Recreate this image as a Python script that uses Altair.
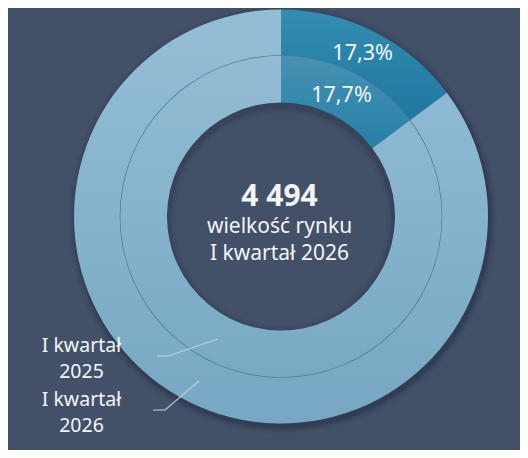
import altair as alt
import pandas as pd

# ---- data ----
rings = ["I kwartał 2025", "I kwartał 2026"]          # inner ring, outer ring
segments = ["udział", "pozostałe"]
inner_values = [14.8, 85.2]
outer_values = [14.8, 85.2]
inner_labels = ["17,7%", ""]
outer_labels = ["17,3%", ""]
center_value = "4 494"
center_lines = ["wielkość rynku", "I kwartał 2026"]
legend_2025 = ["I kwartał", "2025"]
legend_2026 = ["I kwartał", "2026"]

rows = []
for ring, vals, labs in [(rings[0], inner_values, inner_labels), (rings[1], outer_values, outer_labels)]:
    for i, (s, v, l) in enumerate(zip(segments, vals, labs)):
        rows.append({"ring": ring, "seg": s, "value": v, "label": l, "ord": i})
df = pd.DataFrame(rows)
one = pd.DataFrame({"k": [0]})

BG = "#435168"
W, H = 512, 442
CX, CY = 273, 208.5
R_OUT, R_MID, R_IN = 207, 161, 114
FONT = "Noto Sans"
TXT = "#f2f5f8"


def grad(c1, c2):
    return {"gradient": "linear", "x1": 0, "y1": 0, "x2": 0, "y2": 1,
            "stops": [{"offset": 0, "color": c1}, {"offset": 1, "color": c2}]}

light_out = grad("#95bed6", "#77a7c3")
dark_out = grad("#338cb1", "#1e789f")
light_in = grad("#93bcd4", "#79a9c4")
dark_in = grad("#4791b4", "#2680a6")

layers = []

# outer drop shadow
for k, op in [(7, 0.05), (5, 0.07), (3, 0.1), (1.5, 0.12)]:
    layers.append(
        alt.Chart(one).mark_arc(innerRadius=R_OUT - 10, outerRadius=R_OUT + k, color="#0d1726", opacity=op)
        .encode(theta=alt.value(0), theta2=alt.value(6.2832), x=alt.value(CX + 1.5), y=alt.value(CY + 3))
    )
# inner (hole) shadow
for k, op in [(3, 0.08), (5, 0.08), (8, 0.06)]:
    layers.append(
        alt.Chart(one).mark_arc(innerRadius=R_IN - k, outerRadius=R_IN + 10, color="#0d1726", opacity=op)
        .encode(theta=alt.value(0), theta2=alt.value(6.2832), x=alt.value(CX), y=alt.value(CY + 3))
    )

def ring_layer(ring, r1, r2, dark, light):
    return (
        alt.Chart(df).transform_filter(alt.datum.ring == ring)
        .mark_arc(innerRadius=r1, outerRadius=r2)
        .encode(
            theta=alt.Theta("value:Q", stack=True),
            order=alt.Order("ord:O"),
            fill=alt.condition(alt.datum.seg == segments[0], alt.value(dark), alt.value(light)),
            x=alt.value(CX), y=alt.value(CY),
        )
    )

layers.append(ring_layer(rings[1], R_MID, R_OUT, dark_out, light_out))
layers.append(ring_layer(rings[0], R_IN, R_MID, dark_in, light_in))

# thin separator between rings
layers.append(
    alt.Chart(one).mark_arc(innerRadius=R_MID - 0.35, outerRadius=R_MID + 0.35, color="#4d7b9a", opacity=0.85)
    .encode(theta=alt.value(0), theta2=alt.value(6.2832), x=alt.value(CX), y=alt.value(CY))
)

def pct_layer(ring, r):
    return (
        alt.Chart(df).transform_filter(alt.datum.ring == ring)
        .mark_text(radius=r, font=FONT, fontSize=21.5, color=TXT, baseline="middle", align="center")
        .encode(
            theta=alt.Theta("value:Q", stack=True),
            order=alt.Order("ord:O"),
            text="label:N",
            x=alt.value(CX), y=alt.value(CY),
        )
    )

layers.append(pct_layer(rings[1], 182))
layers.append(pct_layer(rings[0], 135))

# texts
def txt(s, x, y, size=21, weight="normal", line_height=None):
    kw = dict(text=s, font=FONT, fontSize=size, fontWeight=weight, color=TXT,
              align="center", baseline="alphabetic")
    if line_height is not None:
        kw["lineHeight"] = line_height
    return alt.Chart(one).mark_text(**kw).encode(x=alt.value(x), y=alt.value(y))

layers.append(txt(center_value, 271.5, 198, size=30, weight="bold"))
layers.append(txt(center_lines, 271.5, 225, line_height=27))

# ring labels (two lines each)
layers.append(txt(legend_2025, 73.5, 343.5, size=19.5, line_height=26.5))
layers.append(txt(legend_2026, 73.5, 397.5, size=19.5, line_height=26.5))

# leader lines
LC = "#c9d5de"
def rule(x1, y1, x2, y2):
    return alt.Chart(one).mark_rule(color=LC, strokeWidth=1.2, opacity=0.85).encode(
        x=alt.value(x1), y=alt.value(y1), x2=alt.value(x2), y2=alt.value(y2))

layers += [rule(149, 348, 160, 348), rule(160, 348, 210, 331),
           rule(145, 402, 157, 402), rule(157, 402, 191, 373)]

chart = alt.layer(*layers).properties(
    width=W, height=H, background=BG, padding=0,
    autosize=alt.AutoSizeParams(type="none"),
).configure_view(stroke=None)

chart.save("out.html", embed_options={"renderer": "svg", "actions": False})
